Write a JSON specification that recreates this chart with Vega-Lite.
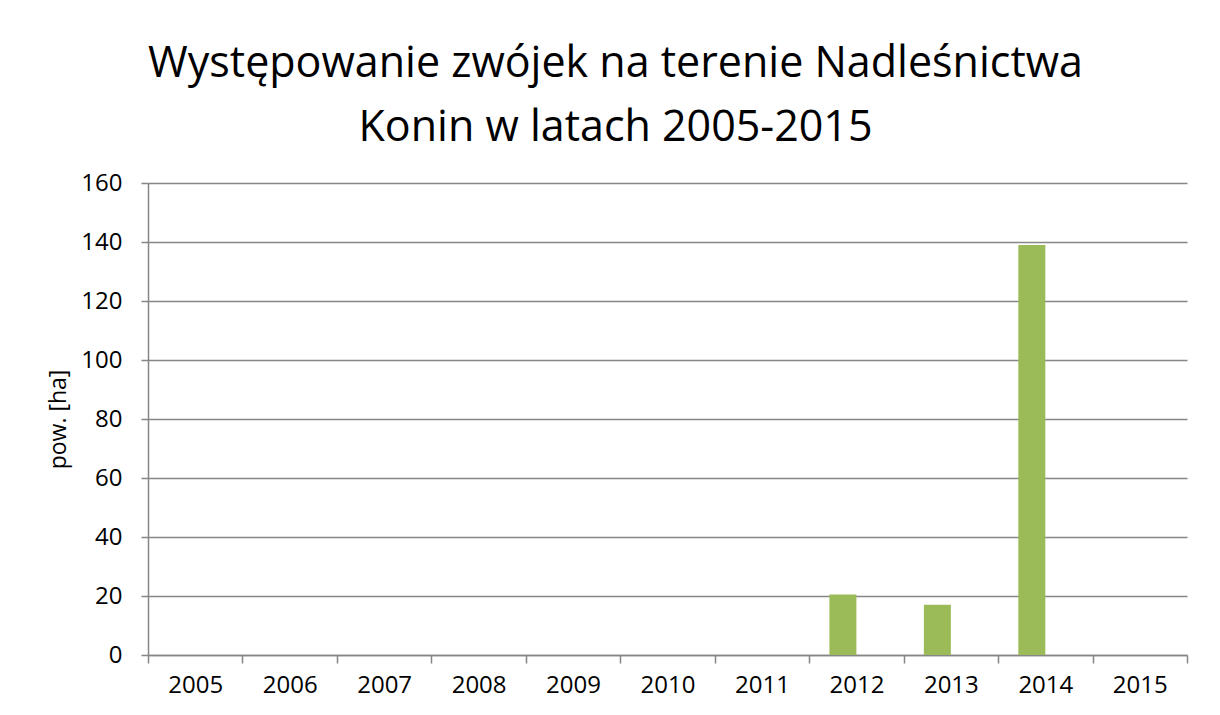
{
  "$schema": "https://vega.github.io/schema/vega-lite/v6.json",
  "autosize": {"type": "none"},
  "width": 1039,
  "height": 472,
  "padding": {"left": 148, "top": 183, "right": 33, "bottom": 60},
  "background": "white",
  "title": {
    "text": ["Występowanie zwójek na terenie Nadleśnictwa", "Konin w latach 2005-2015"],
    "font": "Open Sans",
    "fontSize": 43,
    "fontWeight": "normal",
    "color": "#000000",
    "lineHeight": 64,
    "anchor": "middle",
    "frame": "group",
    "dx": -52,
    "baseline": "alphabetic",
    "offset": -13
  },
  "data": {
    "values": [
      {"rok": "2005", "seria": "1", "pow": 0},
      {"rok": "2006", "seria": "1", "pow": 0},
      {"rok": "2007", "seria": "1", "pow": 0},
      {"rok": "2008", "seria": "1", "pow": 0},
      {"rok": "2009", "seria": "1", "pow": 0},
      {"rok": "2010", "seria": "1", "pow": 0},
      {"rok": "2011", "seria": "1", "pow": 0},
      {"rok": "2012", "seria": "1", "pow": 20.5},
      {"rok": "2013", "seria": "1", "pow": 17},
      {"rok": "2014", "seria": "1", "pow": 139},
      {"rok": "2015", "seria": "1", "pow": 0}
    ]
  },
  "mark": {"type": "bar", "color": "#9BBB59"},
  "encoding": {
    "x": {
      "field": "rok",
      "type": "ordinal",
      "sort": null,
      "scale": {"paddingInner": 0, "paddingOuter": 0},
      "axis": {
        "title": null,
        "labelAngle": 0,
        "tickBand": "extent",
        "tickSize": 8,
        "tickColor": "#868686",
        "tickWidth": 1.5,
        "domainColor": "#868686",
        "domainWidth": 1.5,
        "labelFont": "Open Sans",
        "labelFontSize": 24,
        "labelColor": "#000000",
        "labelPadding": 10,
        "grid": false
      }
    },
    "xOffset": {
      "field": "seria",
      "type": "nominal",
      "scale": {"domain": ["1", "2"], "paddingInner": 0, "paddingOuter": 0.749}
    },
    "y": {
      "field": "pow",
      "type": "quantitative",
      "scale": {"domain": [0, 160]},
      "axis": {
        "title": "pow. [ha]",
        "titleFont": "Open Sans",
        "titleFontSize": 23,
        "titleFontWeight": "normal",
        "titleColor": "#000000",
        "titlePadding": 10,
        "values": [0, 20, 40, 60, 80, 100, 120, 140, 160],
        "tickSize": 7,
        "tickColor": "#868686",
        "tickWidth": 1.5,
        "domainColor": "#868686",
        "domainWidth": 1.5,
        "gridColor": "#868686",
        "gridWidth": 1.3,
        "labelFont": "Open Sans",
        "labelFontSize": 24,
        "labelColor": "#000000",
        "labelPadding": 19
      }
    }
  },
  "config": {
    "view": {"stroke": null},
    "axisY": {"titleFontSize": 23, "titleFont": "Open Sans", "titleFontWeight": "normal"}
  }
}
